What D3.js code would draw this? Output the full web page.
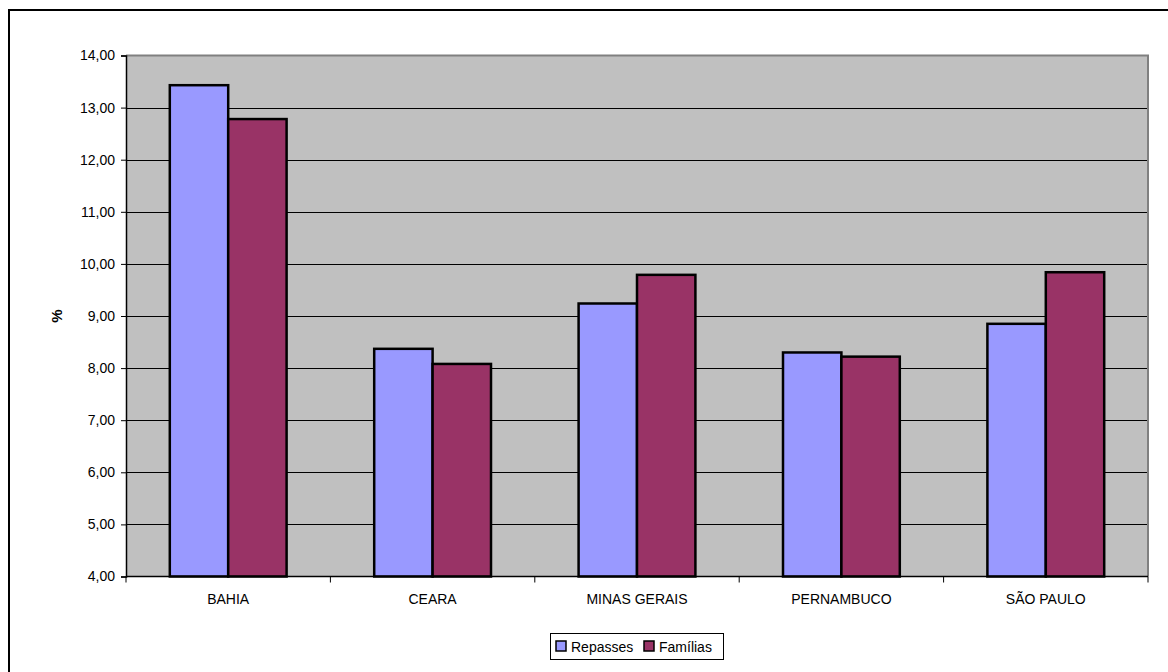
<!DOCTYPE html>
<html>
<head>
<meta charset="utf-8">
<script src="https://cdn.jsdelivr.net/npm/d3@7"></script>
<style>
  html, body { margin: 0; padding: 0; background: #fff; }
  svg { display: block; font-family: "Liberation Sans", Arial, sans-serif; }
</style>
</head>
<body>
<svg id="chart" width="1168" height="672"></svg>
<script>
// Share of transfers vs. share of families, by state (%)
const categories = ["BAHIA", "CEARA", "MINAS GERAIS", "PERNAMBUCO", "SÃO PAULO"];
const seriesNames = ["Repasses", "Famílias"];
const repasses = [13.43, 8.37, 9.24, 8.30, 8.85];
const familias = [12.78, 8.08, 9.79, 8.22, 9.84];
const yTicks = [4, 5, 6, 7, 8, 9, 10, 11, 12, 13, 14];
const colors = ["#9999ff", "#993366"];

const svg = d3.select("#chart");
const W = 1168, H = 672;
const plot = { left: 126, top: 55.5, right: 1148, bottom: 576.5 };
const fontSize = 14;

// outer frame (extends past the right and bottom edges)
svg.append("rect")
  .attr("x", 9).attr("y", 10)
  .attr("width", W + 20).attr("height", H + 20)
  .attr("fill", "#fff").attr("stroke", "#000").attr("stroke-width", 2);

const x0 = d3.scaleBand().domain(categories).range([plot.left, plot.right]).paddingInner(0).paddingOuter(0);
const y = d3.scaleLinear().domain([4, 14]).range([plot.bottom, plot.top]);

// plot background
svg.append("rect")
  .attr("x", plot.left).attr("y", plot.top)
  .attr("width", plot.right - plot.left).attr("height", plot.bottom - plot.top)
  .attr("fill", "#c0c0c0");

// gridlines
svg.append("g").selectAll("line")
  .data(yTicks.filter(t => t > 4 && t < 14))
  .join("line")
  .attr("x1", plot.left).attr("x2", plot.right)
  .attr("y1", d => Math.round(y(d)) + 0.5).attr("y2", d => Math.round(y(d)) + 0.5)
  .attr("stroke", "#000").attr("stroke-width", 1);

// plot border (top/right)
svg.append("path")
  .attr("d", `M${plot.left},${plot.top} H${plot.right} V${plot.bottom}`)
  .attr("fill", "none").attr("stroke", "#808080").attr("stroke-width", 2);

// bars: gap width 150% of a bar
const bandW = x0.bandwidth();
const barW = bandW / 3.5;
const data = categories.map((c, i) => ({ c, vals: [repasses[i], familias[i]] }));

const groups = svg.append("g").selectAll("g")
  .data(data).join("g")
  .attr("transform", d => `translate(${x0(d.c) + bandW / 2 - barW},0)`);

groups.selectAll("rect")
  .data(d => d.vals.map((v, k) => ({ v, k })))
  .join("rect")
  .attr("x", d => d.k * barW)
  .attr("y", d => y(d.v))
  .attr("width", barW)
  .attr("height", d => y(4) - y(d.v))
  .attr("fill", d => colors[d.k])
  .attr("stroke", "#000")
  .attr("stroke-width", 2.5);

// y axis
const yAxis = d3.axisLeft(y)
  .tickValues(yTicks)
  .tickSize(5)
  .tickPadding(6)
  .tickFormat(d => d3.format(".2f")(d).replace(".", ","));
const gy = svg.append("g")
  .attr("transform", `translate(${plot.left},0)`)
  .call(yAxis);
gy.select(".domain").attr("stroke", "#000").attr("stroke-width", 1.5);
gy.selectAll(".tick line").attr("stroke", "#000");
gy.selectAll("text").attr("font-size", fontSize).attr("fill", "#000")
  .attr("font-family", "'Liberation Sans', Arial, sans-serif");

// x axis: ticks between categories, labels centered
const gx = svg.append("g").attr("transform", `translate(0,${plot.bottom})`);
gx.append("line")
  .attr("x1", plot.left).attr("x2", plot.right)
  .attr("y1", 0).attr("y2", 0)
  .attr("stroke", "#000").attr("stroke-width", 1.5);
const boundaries = categories.map(c => x0(c)).concat([plot.right]);
gx.selectAll("line.tick")
  .data(boundaries).join("line")
  .attr("class", "tick")
  .attr("x1", d => d).attr("x2", d => d)
  .attr("y1", 0).attr("y2", 6)
  .attr("stroke", "#000");
gx.selectAll("text")
  .data(categories).join("text")
  .attr("x", d => x0(d) + bandW / 2)
  .attr("y", 27)
  .attr("text-anchor", "middle")
  .attr("font-size", fontSize)
  .attr("fill", "#000")
  .text(d => d);

// y axis title
svg.append("text")
  .attr("transform", `translate(62,316) rotate(-90)`)
  .attr("text-anchor", "middle")
  .attr("font-size", 15)
  .attr("font-weight", "bold")
  .text("%");

// legend
const lg = svg.append("g").attr("transform", "translate(550,633)");
lg.append("rect")
  .attr("x", 0.5).attr("y", 0.5).attr("width", 173).attr("height", 26)
  .attr("fill", "#fff").attr("stroke", "#000").attr("stroke-width", 1);
const itemX = [6, 94];
seriesNames.forEach((name, i) => {
  lg.append("rect")
    .attr("x", itemX[i]).attr("y", 8)
    .attr("width", 10).attr("height", 10)
    .attr("fill", colors[i]).attr("stroke", "#000").attr("stroke-width", 1.5);
  lg.append("text")
    .attr("x", itemX[i] + 15).attr("y", 18.5)
    .attr("font-size", fontSize)
    .attr("fill", "#000")
    .text(name);
});
</script>
</body>
</html>
